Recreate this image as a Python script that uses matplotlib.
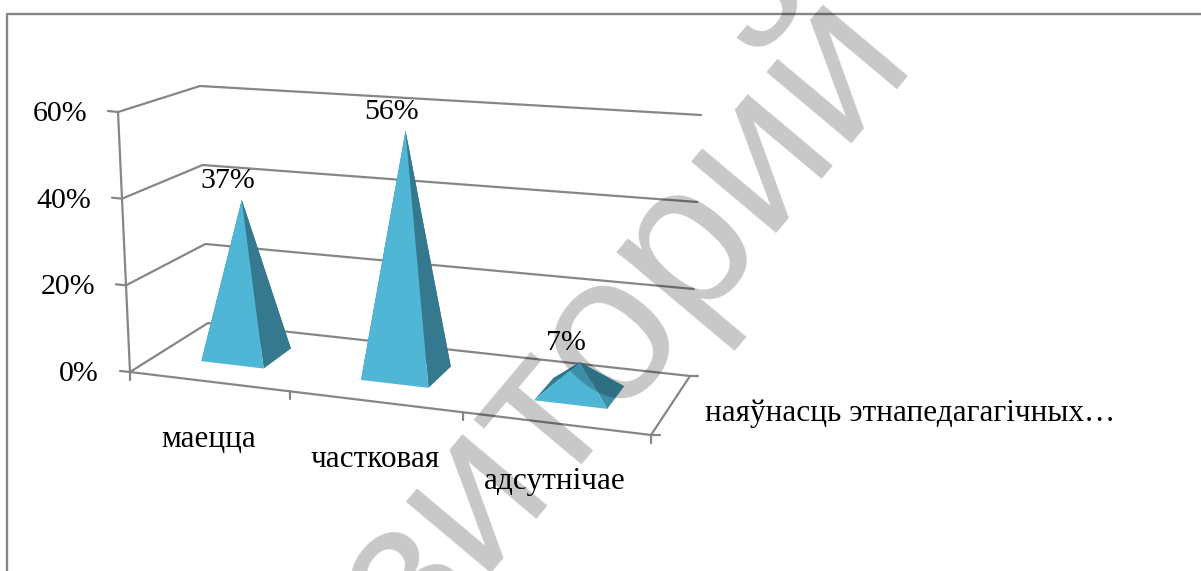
import matplotlib
matplotlib.use('Agg')
import matplotlib.pyplot as plt

categories = ['маецца', 'частковая', 'адсутнічае']
values = [37, 56, 7]
series_name = 'наяўнасць этнапедагагічных…'
y_ticks = [0, 20, 40, 60]
watermark = 'репозиторий'

GREY = '#868686'
FRONT = '#4fb7d5'
SIDE = ['#35798f', '#35798f', '#3d8ea8']
BACK = '#2c6a80'

plt.rcParams['font.family'] = ['Liberation Serif', 'DejaVu Serif']

fig = plt.figure(figsize=(12.01, 5.71), dpi=100)
ax = fig.add_axes([0, 0, 1, 1])
ax.set_xlim(0, 1201)
ax.set_ylim(571, 0)
ax.axis('off')


# corners of the 3d box in pixels: floor and the 60% level
floor = {'fl': (130, 372), 'fr': (651, 435), 'bl': (208, 323), 'br': (690, 376)}
top = {'fl': (118, 112), 'fr': (661, 147), 'bl': (200, 86), 'br': (701, 115)}


def mix(a, b, t):
    return (a[0] + (b[0] - a[0]) * t, a[1] + (b[1] - a[1]) * t)


def project(x, depth, value):
    # x in categories (0..3), depth 0..1, value in percent
    t = x / (3 - 0.128 * (x - 3))
    low = mix(mix(floor['fl'], floor['fr'], t), mix(floor['bl'], floor['br'], t), depth)
    high = mix(mix(top['fl'], top['fr'], t), mix(top['bl'], top['br'], t), depth)
    return mix(low, high, value / 60)


def line(p, q, lw=1.6):
    ax.plot([p[0], q[0]], [p[1], q[1]], color=GREY, lw=lw, solid_capstyle='round', zorder=1)


# frame
ax.plot([7, 7, 1201], [571, 14, 14], color=GREY, lw=1.7, zorder=1)

# walls and gridlines
for v in y_ticks:
    front = project(0, 0, v)
    back = project(0, 1, v)
    right = project(3, 1, v)
    line(front, back)
    line(back, right)
    line((front[0] - 10, front[1] - 1), front)
    ax.text(front[0] - 31, front[1] + 2, f'{v}%', fontsize=21.5, ha='right', va='center', zorder=3)

line(project(0, 0, 0), project(0, 0, 60))
line(project(0, 0, 0), project(3, 0, 0))
line(project(3, 0, 0), project(3, 1, 0))
end = project(3, 0, 0)
line(end, (end[0] + 9, end[1]))
end = project(3, 1, 0)
line(end, (end[0] + 8, end[1]))

for i in range(4):
    p = project(i, 0, 0)
    line(p, (p[0], p[1] + 8))

# pyramids
half = 0.2
d0, d1 = 0.33, 0.72
dc = 0.52
for i, v in enumerate(values):
    c = i + 0.5
    fl = project(c - half, d0, 0)
    fr = project(c + half, d0, 0)
    bl = project(c - half, d1, 0)
    br = project(c + half, d1, 0)
    apex = project(c, dc, v)
    ax.fill(*zip(bl, br, apex), color=BACK, lw=0, zorder=2)
    ax.fill(*zip(fl, bl, apex), color=SIDE[0], lw=0, zorder=2)
    ax.fill(*zip(fr, br, apex), color=SIDE[i], lw=0, zorder=2)
    ax.fill(*zip(fl, fr, apex), color=FRONT, lw=0, zorder=2)
    ax.text(apex[0] - 14, apex[1] - 19, f'{v}%', fontsize=21.5, ha='center', va='center', zorder=3)

# category labels
for i, name in enumerate(categories):
    p = project(i + 0.5, 0, 0)
    ax.text(p[0], p[1] + 58, name, fontsize=22.5, ha='center', va='center', zorder=3)

ax.text(705, 413, series_name, fontsize=22.5, ha='left', va='center', zorder=3)

# watermark over everything
ax.text(914, 54, watermark, fontsize=151, family='Liberation Sans', color='black', alpha=0.22,
        rotation=50, rotation_mode='anchor', ha='right', va='baseline', zorder=5)

fig.savefig('out.png', dpi=100)
